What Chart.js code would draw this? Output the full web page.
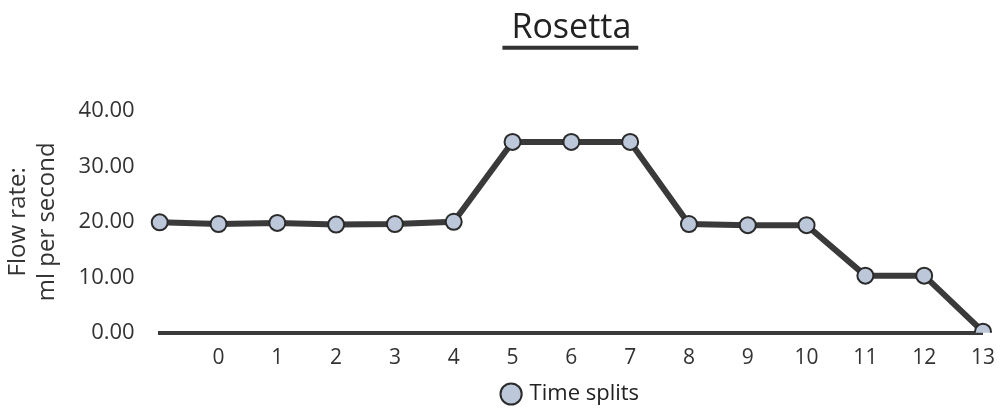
<!DOCTYPE html>
<html>
<head>
<meta charset="utf-8">
<title>Rosetta</title>
<script src="https://cdn.jsdelivr.net/npm/chart.js@4.4.0/dist/chart.umd.min.js"></script>
<style>
  body { margin: 0; background: #ffffff; }
  .chart-box { width: 1000px; height: 420px; }
</style>
</head>
<body>
<div class="chart-box"><canvas id="linechart"></canvas></div>
<script>
// Data
const splitLabels = ['', '0', '1', '2', '3', '4', '5', '6', '7', '8', '9', '10', '11', '12', '13'];
const flowRates = [19.9, 19.6, 19.8, 19.5, 19.6, 20.0, 34.4, 34.4, 34.4, 19.6, 19.4, 19.4, 10.3, 10.3, 0.2];
const yTicks = [0, 10, 20, 30, 40];

const handFont = "'Open Sans', 'DejaVu Sans', sans-serif";

// underline under the title, like the sketch
const titleUnderline = {
    id: 'titleUnderline',
    afterDraw(chart) {
        const t = chart.titleBlock;
        if (!t) return;
        const ctx = chart.ctx;
        const opts = chart.options.plugins.title;
        ctx.save();
        ctx.font = opts.font.size + 'px ' + handFont;
        const w = ctx.measureText(opts.text).width;
        const cx = (t.left + t.right) / 2;
        const y = t.top + opts.padding.top + opts.font.size * 1.2 - 1;
        ctx.strokeStyle = '#333333';
        ctx.lineWidth = 4;
        ctx.beginPath();
        ctx.moveTo(cx - w / 2 - 9, y);
        ctx.lineTo(cx + w / 2 + 7, y);
        ctx.stroke();
        ctx.restore();
    }
};

const ctxLine = document.getElementById('linechart');

new Chart(ctxLine, {
    type: 'line',
    data: {
        labels: splitLabels,
        datasets: [{
                label: 'Time splits',
                data: flowRates,
                borderColor: '#3a3a3a',
                borderWidth: 6,
                pointRadius: 8,
                pointBorderWidth: 2,
                pointBackgroundColor: '#bcc7da',
                pointBorderColor: '#2b2b2b',
                tension: 0
            },
            {
                // light hatching inside the line
                label: 'hatch',
                data: flowRates,
                borderColor: 'rgba(235,235,235,0.9)',
                borderWidth: 2,
                borderDash: [4, 3],
                pointRadius: 0,
                tension: 0
            }
        ]
    },
    options: {
        responsive: true,
        maintainAspectRatio: false,
        animation: false,
        layout: {
            padding: { left: 2, right: 16, top: 0, bottom: 5 }
        },
        scales: {
            x: {
                offset: false,
                grid: { display: false },
                border: { display: true, color: '#3a3a3a', width: 4 },
                ticks: {
                    color: '#333333',
                    font: { family: handFont, size: 21 },
                    maxRotation: 0,
                    autoSkip: false,
                    padding: 5
                }
            },
            y: {
                min: 0,
                max: 40,
                grid: { display: false },
                border: { display: false },
                afterBuildTicks: (scale) => {
                    scale.ticks = yTicks.map(v => ({ value: v }));
                },
                ticks: {
                    color: '#333333',
                    font: { family: handFont, size: 22 },
                    padding: 17,
                    callback: (v) => Number(v).toFixed(2)
                },
                title: {
                    display: true,
                    text: ['Flow rate:', 'ml per second'],
                    color: '#333333',
                    font: { family: handFont, size: 24 },
                    padding: { top: 2, bottom: 0 }
                }
            }
        },
        plugins: {
            title: {
                display: true,
                fullSize: false,
                text: 'Rosetta',
                color: '#222222',
                font: { family: handFont, size: 34, weight: 'normal' },
                padding: { top: 8, bottom: 62 }
            },
            legend: {
                position: 'bottom',
                fullSize: false,
                labels: {
                    usePointStyle: true,
                    pointStyle: 'circle',
                    boxWidth: 15,
                    boxHeight: 15,
                    padding: 7,
                    color: '#222222',
                    font: { family: handFont, size: 22 },
                    filter: (item) => item.datasetIndex === 0
                }
            },
            tooltip: { enabled: false }
        }
    },
    plugins: [titleUnderline]
});
</script>
</body>
</html>
